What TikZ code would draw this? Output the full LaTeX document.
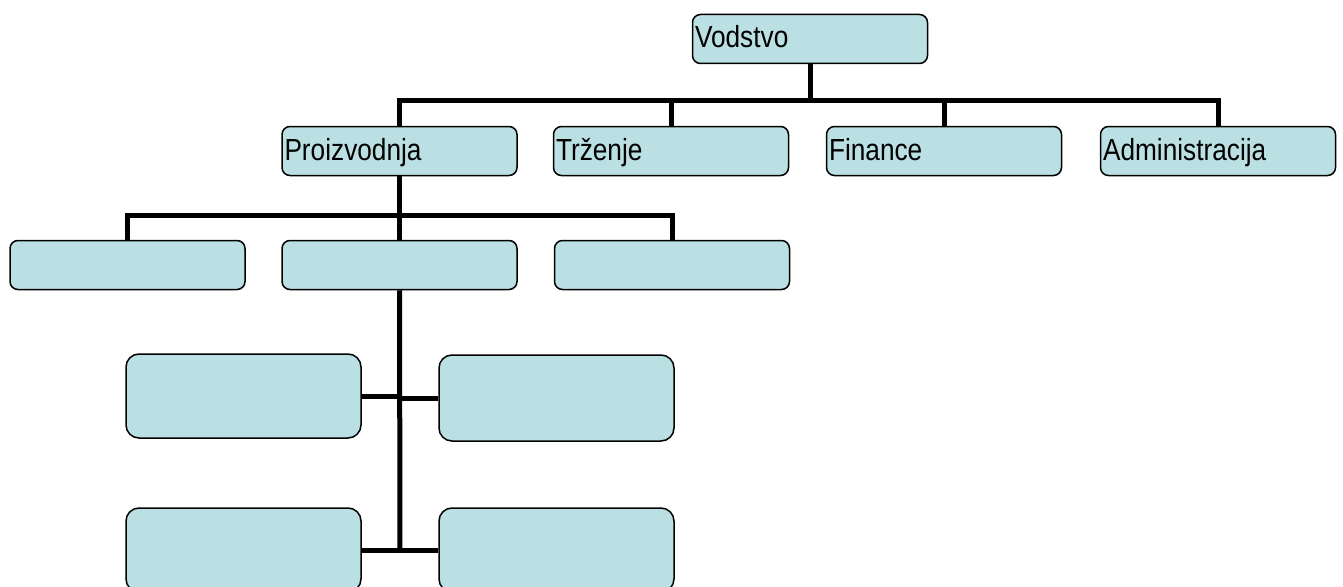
\documentclass[tikz,border=0pt]{standalone}
\usepackage{fontspec}
\setmainfont[FakeStretch=0.86]{Liberation Sans}
\usepackage{tikz}
\definecolor{boxfill}{RGB}{187,224,227}
\tikzset{
  unit/.style={draw, line width=1.5pt, fill=boxfill, rounded corners=8pt,
    inner xsep=2.5pt, inner ysep=0pt, text width=230pt, align=left,
    text height=18pt, text depth=0pt, minimum height=49pt,
    font=\fontsize{30.5}{34}\selectfont},
  bigunit/.style={unit, rounded corners=13pt, minimum height=84pt},
  link/.style={line width=5pt}
}

\begin{document}
\begin{tikzpicture}[x=1pt, y=-1pt]
\useasboundingbox (0,0) rectangle (1343,586);
\node[unit] (vod) at (810,39) {Vodstvo};
\node[unit] (proi) at (399.5,151) {Proizvodnja};
\node[unit] (trz) at (671,151) {Tr\v{z}enje};
\node[unit] (fin) at (944,151) {Finance};
\node[unit] (adm) at (1218,151) {Administracija};
\node[unit] (p1) at (127.5,265) {};
\node[unit] (p2) at (399.5,265) {};
\node[unit] (p3) at (672,265) {};
\node[bigunit] (q1) at (243.5,396) {};
\node[bigunit, minimum height=86pt] (q2) at (556.5,398) {};
\node[bigunit] (q3) at (243.5,550) {};
\node[bigunit] (q4) at (556.5,550) {};
\coordinate (bus1) at (810,100);
\coordinate (bus2) at (400,215);
\coordinate (foot) at (400,552);
\draw[link] (vod.south) -- (bus1);
\draw[link] (proi.north) |- (bus1) -| (adm.north);
\draw[link] (trz.north) -- (trz.north |- bus1);
\draw[link] (fin.north) -- (fin.north |- bus1);
\draw[link] (p1.north) |- (bus2) -| (p3.north);
\draw[link] (proi.south) -- (p2.north);
\draw[link] (p2.south) -- (foot);
\draw[link] (q1.east) -- (q1.east -| foot);
\draw[link] (q2.west) -- (q2.west -| foot);
\draw[link] (q3.east) -- (q4.west);
\end{tikzpicture}
\end{document}
